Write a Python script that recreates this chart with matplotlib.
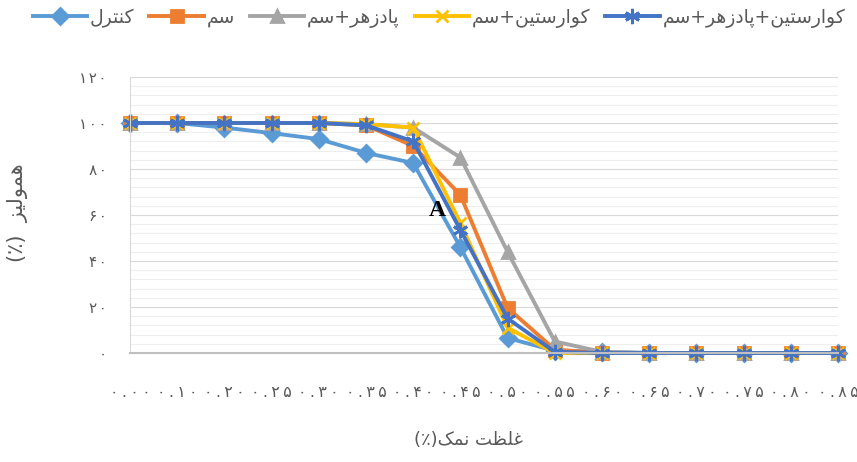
import matplotlib
matplotlib.use('Agg')
import matplotlib.pyplot as plt
from matplotlib.ticker import MultipleLocator
from matplotlib.transforms import ScaledTranslation

# salt concentration categories (x) and hemolysis (%) per group
salt = ['۰.۰۰', '۰.۱۰', '۰.۲۰', '۰.۲۵', '۰.۳۰', '۰.۳۵', '۰.۴۰', '۰.۴۵',
        '۰.۵۰', '۰.۵۵', '۰.۶۰', '۰.۶۵', '۰.۷۰', '۰.۷۵', '۰.۸۰', '۰.۸۵']
control = [100, 100, 98, 95.6, 93, 87, 82.6, 46, 6.5, 1, 0.5, 0, 0, 0, 0, 0]
toxin = [100, 100, 100, 100, 100, 99, 90, 68.7, 19.6, 1.5, 0, 0, 0, 0, 0, 0]
antidote = [100, 100, 100, 100, 100, 99.5, 98, 85, 44, 5, 0.5, 0, 0, 0, 0, 0]
querc = [100, 100, 100, 100, 100, 99.5, 98, 56.5, 11, 0, 0, 0, 0, 0, 0, 0]
querc_anti = [100, 100, 100, 100, 100, 99, 92, 53.5, 15, 0.5, 0, 0, 0, 0, 0, 0]

names = ['کنترل', 'سم', 'پادزهر+سم', 'کوارستین+سم', 'کوارستین+پادزهر+سم']
yticklabels = ['۰', '۲۰', '۴۰', '۶۰', '۸۰', '۱۰۰', '۱۲۰']

# arabic presentation forms: (isolated, final, initial, medial)
FORMS = {
    'ا': ('\uFE8D', '\uFE8E'),
    'د': ('\uFEA9', '\uFEAA'),
    'ر': ('\uFEAD', '\uFEAE'),
    'ز': ('\uFEAF', '\uFEB0'),
    'و': ('\uFEED', '\uFEEE'),
    'پ': ('\uFB56', '\uFB57', '\uFB58', '\uFB59'),
    'ت': ('\uFE95', '\uFE96', '\uFE97', '\uFE98'),
    'ن': ('\uFEE5', '\uFEE6', '\uFEE7', '\uFEE8'),
    'ی': ('\uFBFC', '\uFBFD', '\uFBFE', '\uFBFF'),
    'س': ('\uFEB1', '\uFEB2', '\uFEB3', '\uFEB4'),
    'م': ('\uFEE1', '\uFEE2', '\uFEE3', '\uFEE4'),
    'ل': ('\uFEDD', '\uFEDE', '\uFEDF', '\uFEE0'),
    'ک': ('\uFB8E', '\uFB8F', '\uFB90', '\uFB91'),
    'ه': ('\uFEE9', '\uFEEA', '\uFEEB', '\uFEEC'),
    'غ': ('\uFECD', '\uFECE', '\uFECF', '\uFED0'),
    'ظ': ('\uFEC5', '\uFEC6', '\uFEC7', '\uFEC8'),
}


def shape(s):
    """join letters and reverse to visual order (rtl)"""
    out = []
    for i, c in enumerate(s):
        f = FORMS.get(c)
        if f is None:
            out.append(c)
            continue
        prev = s[i - 1] if i > 0 else ''
        nxt = s[i + 1] if i < len(s) - 1 else ''
        join_prev = prev in FORMS and len(FORMS[prev]) == 4
        join_next = len(f) == 4 and nxt in FORMS
        if join_prev and join_next:
            out.append(f[3])
        elif join_prev:
            out.append(f[1])
        elif join_next:
            out.append(f[2])
        else:
            out.append(f[0])
    return ''.join(out[::-1])


plt.rcParams['font.family'] = ['DejaVu Sans']
grey = '#595959'

fig = plt.figure(figsize=(8.57, 4.62), dpi=100)
ax = fig.add_axes([130 / 857, 109 / 462, 708 / 857, 276 / 462])

x = range(len(salt))
series = [control, toxin, antidote, querc, querc_anti]
colors = ['#5B9BD5', '#ED7D31', '#A5A5A5', '#FFC000', '#4472C4']
markers = ['D', 's', '^', 'x', (6, 2, 0)]
sizes = [8, 9, 9, 9, 11]
for vals, c, m, ms, nm in zip(series, colors, markers, sizes, names):
    ax.plot(x, vals, color=c, lw=2.8, marker=m, ms=ms, mew=2,
            mec=c, mfc=c, clip_on=False, label=shape(nm))

ax.set_xlim(0, len(salt) - 1)
ax.set_ylim(0, 120)
ax.set_xticks(list(x))
# spaced digits like the original axis labels
ax.set_xticklabels(['\u2009'.join(s) for s in salt], fontsize=11.5,
                   color=grey)
shift = ScaledTranslation(-6 / 100, 0, fig.dpi_scale_trans)
for lab in ax.get_xticklabels():
    lab.set_transform(lab.get_transform() + shift)
ax.set_yticks(range(0, 121, 20))
ax.set_yticklabels(['\u200a'.join(s) for s in yticklabels], fontsize=11,
                   color=grey)
ax.yaxis.set_minor_locator(MultipleLocator(4))
ax.tick_params(axis='both', length=0, which='both')
ax.tick_params(axis='y', pad=17)
ax.tick_params(axis='x', pad=23)
ax.grid(axis='y', which='major', color='#D9D9D9', lw=0.8)
ax.grid(axis='y', which='minor', color='#EEEEEE', lw=0.8)
ax.set_axisbelow(True)
for s in ['top', 'right']:
    ax.spines[s].set_visible(False)
ax.spines['left'].set_color('#D9D9D9')
ax.spines['bottom'].set_color('#BFBFBF')
ax.spines['bottom'].set_linewidth(1.5)

ax.text(6.5, 62, 'A', fontsize=17, fontweight='bold',
        family='Liberation Serif', ha='center', va='center')

fig.text(468 / 857, 1 - 440 / 462, '(٪)' + shape('غلظت نمک'),
         fontsize=13, color=grey, ha='center', va='center')
fig.text(18 / 857, 1 - 213 / 462, '(٪)  ' + shape('همولیز'),
         fontsize=15, color=grey, rotation=90, ha='center', va='center')

fig.legend(loc='center', bbox_to_anchor=(439 / 857, 1 - 18 / 462), ncol=5,
           frameon=False, fontsize=13.5, labelcolor=grey, handlelength=2.9,
           handletextpad=0.15, columnspacing=0.8)

fig.savefig('out.png', dpi=100)
